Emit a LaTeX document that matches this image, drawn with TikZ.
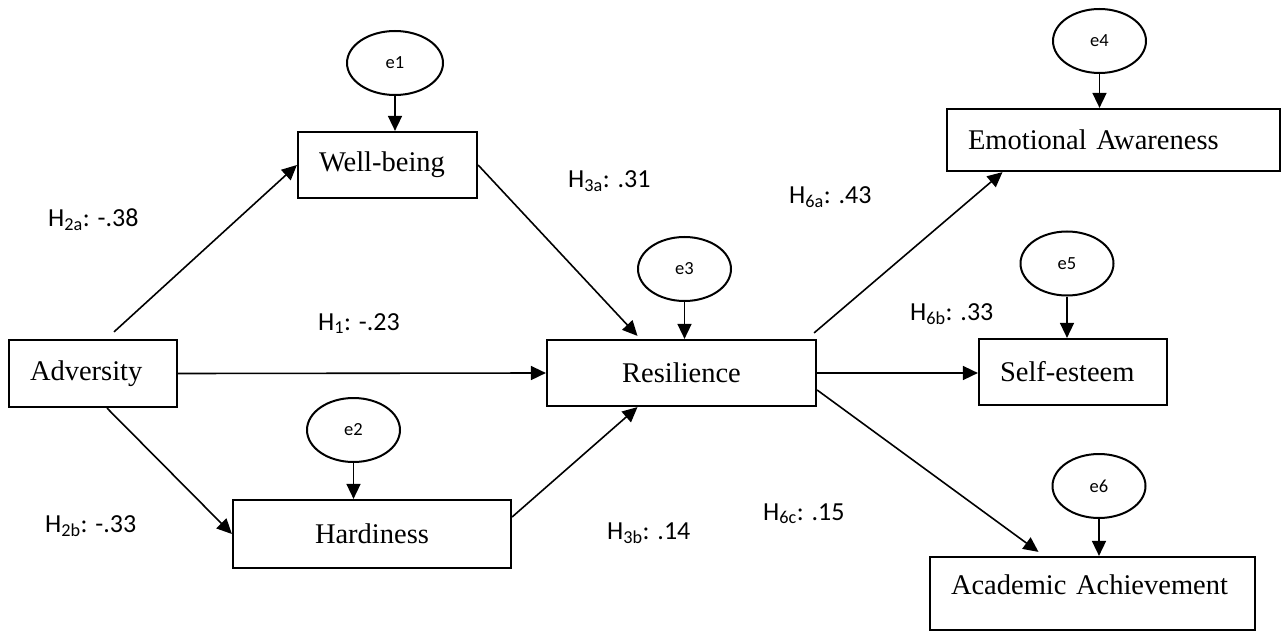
\documentclass[tikz,border=0pt]{standalone}
\usepackage{fontspec}
\setmainfont{Liberation Serif}
\newfontfamily\calibri{Carlito}
\usetikzlibrary{shapes.geometric, arrows.meta, positioning}

\begin{document}
\begin{tikzpicture}[
    x=1pt, y=-1pt,
    %% ── Box styles ──────────────────────────────────────────────────────
    varbox/.style={
        draw, line width=2.2pt,
        inner xsep=21pt, inner ysep=4pt,
        font=\fontsize{28.5}{32}\selectfont,
    },
    leftbox/.style={
        varbox,
        align=left, text width=#1,
    },
    errnode/.style={
        draw, line width=2pt,
        ellipse, inner sep=0pt,
        minimum width=93pt, minimum height=64pt,
        font=\calibri\fontsize{18.5}{20}\selectfont,
    },
    %% ── Arrow styles ────────────────────────────────────────────────────
    path/.style={
        -{Triangle[length=15pt, width=14pt]},
        line width=1.6pt,
    },
    coef/.style={anchor=base west, inner sep=0pt, font=\calibri\fontsize{26}{30}\selectfont},
]
\useasboundingbox (0,0) rectangle (1285,631);

%%─────────────────────────────────────────────────────────────────────────
%% Observed variables
%%─────────────────────────────────────────────────────────────────────────
\node[leftbox=126pt, minimum height=67pt] (Adversity) at (93, 373.5) {Adversity};
\node[leftbox=137pt, minimum height=66pt] (Wellbeing) at (387.5, 165) {Well-being};
\node[varbox, minimum width=278pt, minimum height=68pt] (Hardiness) at (372, 534) {Hardiness};
\node[varbox, minimum width=269pt, minimum height=66pt] (Resilience) at (681.5, 373) {Resilience};
\node[leftbox=291pt, minimum height=62pt] (Emotional) at (1113.5, 140) {Emotional Awareness};
\node[leftbox=146pt, minimum height=66pt] (Selfesteem) at (1073, 372) {Self-esteem};
\node[leftbox=283pt, minimum height=73pt, text depth=17pt] (Academic) at (1092.5, 593.5) {Academic Achievement};

%%─────────────────────────────────────────────────────────────────────────
%% Error terms
%%─────────────────────────────────────────────────────────────────────────
\node[errnode, minimum width=96pt] (e1) at (395, 63) {e1};
\node[errnode] (e2) at (353.5, 430) {e2};
\node[errnode] (e3) at (684.5, 269) {e3};
\node[errnode] (e4) at (1099.5, 41) {e4};
\node[errnode] (e5) at (1067, 263.5) {e5};
\node[errnode] (e6) at (1099, 486) {e6};

%%─────────────────────────────────────────────────────────────────────────
%% Path coefficients
%%─────────────────────────────────────────────────────────────────────────
\node[coef] (H2a) at (48, 227)  {H\textsubscript{2a}: -.38};
\node[coef] (H1)  at (318, 330) {H\textsubscript{1}: -.23};
\node[coef] (H2b) at (45, 532)  {H\textsubscript{2b}: -.33};
\node[coef] (H3a) at (568, 188) {H\textsubscript{3a}: .31};
\node[coef] (H3b) at (607, 539) {H\textsubscript{3b}: .14};
\node[coef] (H6a) at (789, 204) {H\textsubscript{6a}: .43};
\node[coef] (H6b) at (910, 320) {H\textsubscript{6b}: .33};
\node[coef] (H6c) at (763, 520) {H\textsubscript{6c}: .15};

%%─────────────────────────────────────────────────────────────────────────
%% Paths
%%─────────────────────────────────────────────────────────────────────────

%% Adversity → mediators and Resilience
\draw[path] ([xshift=21pt, yshift=7pt]Adversity.north) -- (Wellbeing.west);
\draw[path] (Adversity.east) -- (Resilience.west);
\draw[path] ([xshift=14pt]Adversity.south) -- (Hardiness.west);

%% mediators → Resilience
\draw[path] (Wellbeing.east) -- ([xshift=-44pt, yshift=3pt]Resilience.north);
\draw[path] ([yshift=17pt]Hardiness.east) -- ([xshift=-44pt]Resilience.south);

%% Resilience → outcomes
\draw[path] ([xshift=-3pt, yshift=6pt]Resilience.north east) -- ([xshift=-111pt]Emotional.south);
\draw[path] (Resilience.east) -- (Selfesteem.west |- Resilience.east);
\draw[path] ([yshift=-17pt]Resilience.east) -- ([xshift=-54pt, yshift=4pt]Academic.north);

%% error terms
\draw[path] (e1.south) -- (e1.south |- Wellbeing.north);
\draw[path] (e2.south) -- (e2.south |- Hardiness.north);
\draw[path] (e3.south) -- (e3.south |- Resilience.north);
\draw[path] (e4.south) -- (e4.south |- Emotional.north);
\draw[path] (e5.south) -- (e5.south |- Selfesteem.north);
\draw[path] (e6.south) -- (e6.south |- Academic.north);

\end{tikzpicture}
\end{document}
